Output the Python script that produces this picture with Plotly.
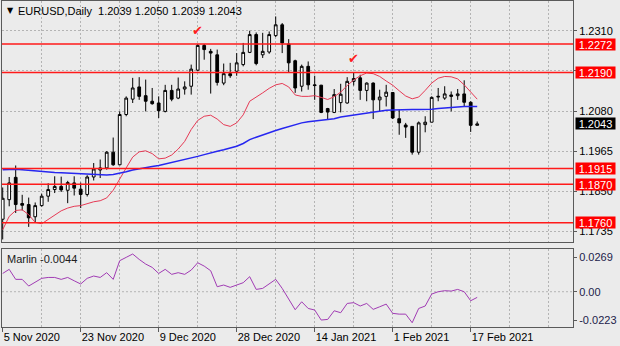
import pandas as pd
import plotly.graph_objects as go

# Trading days shown on the chart (no bars on 25 Dec and 1 Jan)
dates = [d for d in pd.bdate_range("2020-11-05", "2021-02-18")
         if d.strftime("%m-%d") not in ("12-25", "01-01")]

open_ = [1.1770, 1.1826, 1.1890, 1.1815, 1.1812, 1.1777, 1.1809, 1.1836, 1.1855, 1.1864,
         1.1853, 1.1874, 1.1856, 1.1841, 1.1891, 1.1911, 1.1917, 1.1962, 1.1926, 1.2070,
         1.2114, 1.2149, 1.2124, 1.2108, 1.2103, 1.2079, 1.2139, 1.2117, 1.2143, 1.2151,
         1.2197, 1.2268, 1.2251, 1.2241, 1.2160, 1.2187, 1.2194, 1.2213, 1.2248, 1.2299,
         1.2241, 1.2249, 1.2296, 1.2327, 1.2272, 1.2224, 1.2151, 1.2208, 1.2155, 1.2154,
         1.2087, 1.2076, 1.2104, 1.2103, 1.2165, 1.2175, 1.2139, 1.2160, 1.2112, 1.2122,
         1.2133, 1.2058, 1.2040, 1.2036, 1.1962, 1.2041, 1.2048, 1.2120, 1.2117, 1.2126,
         1.2124, 1.2129, 1.2105, 1.2039]
high = [1.1861, 1.1891, 1.1924, 1.1840, 1.1832, 1.1818, 1.1843, 1.1873, 1.1893, 1.1892,
        1.1880, 1.1893, 1.1875, 1.1896, 1.1931, 1.1941, 1.1965, 1.2004, 1.2079, 1.2122,
        1.2175, 1.2177, 1.2170, 1.2146, 1.2122, 1.2155, 1.2155, 1.2176, 1.2165, 1.2213,
        1.2272, 1.2272, 1.2258, 1.2256, 1.2216, 1.2218, 1.2246, 1.2275, 1.2310, 1.2305,
        1.2304, 1.2308, 1.2351, 1.2332, 1.2286, 1.2227, 1.2213, 1.2222, 1.2181, 1.2155,
        1.2089, 1.2143, 1.2158, 1.2177, 1.2191, 1.2184, 1.2162, 1.2162, 1.2141, 1.2155,
        1.2134, 1.2084, 1.2046, 1.2036, 1.2050, 1.2065, 1.2122, 1.2146, 1.2151, 1.2136,
        1.2143, 1.2168, 1.2108, 1.2050]
low = [1.1712, 1.1807, 1.1788, 1.1795, 1.1748, 1.1762, 1.1806, 1.1820, 1.1845, 1.1848,
       1.1816, 1.1838, 1.1802, 1.1835, 1.1881, 1.1888, 1.1912, 1.1923, 1.1925, 1.2065,
       1.2103, 1.2112, 1.2079, 1.2098, 1.2060, 1.2076, 1.2108, 1.2114, 1.2127, 1.2127,
       1.2194, 1.2227, 1.2130, 1.2153, 1.2154, 1.2175, 1.2181, 1.2208, 1.2246, 1.2211,
       1.2232, 1.2244, 1.2292, 1.2246, 1.2191, 1.2132, 1.2136, 1.2141, 1.2112, 1.2074,
       1.2055, 1.2074, 1.2076, 1.2101, 1.2153, 1.2112, 1.2108, 1.2057, 1.2079, 1.2093,
       1.2057, 1.2012, 1.2003, 1.1955, 1.1955, 1.2019, 1.2048, 1.2108, 1.2112, 1.2079,
       1.2112, 1.2093, 1.2020, 1.2039]
close = [1.1830, 1.1874, 1.1812, 1.1810, 1.1774, 1.1809, 1.1836, 1.1855, 1.1864, 1.1854,
         1.1875, 1.1859, 1.1841, 1.1891, 1.1914, 1.1917, 1.1962, 1.1926, 1.2070, 1.2117,
         1.2146, 1.2122, 1.2108, 1.2101, 1.2081, 1.2139, 1.2114, 1.2143, 1.2149, 1.2200,
         1.2268, 1.2256, 1.2246, 1.2162, 1.2187, 1.2181, 1.2218, 1.2248, 1.2299, 1.2216,
         1.2251, 1.2299, 1.2327, 1.2275, 1.2218, 1.2146, 1.2208, 1.2155, 1.2153, 1.2076,
         1.2077, 1.2127, 1.2128, 1.2165, 1.2173, 1.2139, 1.2160, 1.2112, 1.2120, 1.2134,
         1.2060, 1.2046, 1.2034, 1.1962, 1.2046, 1.2048, 1.2119, 1.2122, 1.2129, 1.2122,
         1.2129, 1.2105, 1.2039, 1.2043]

# Short moving average (red) and long moving average (blue)
ma_fast = [1.1740, 1.1778, 1.1795, 1.1797, 1.1783, 1.1761, 1.1757, 1.1769, 1.1783, 1.1794,
           1.1802, 1.1807, 1.1809, 1.1815, 1.1820, 1.1823, 1.1831, 1.1853, 1.1883, 1.1917,
           1.1948, 1.1963, 1.1966, 1.1958, 1.1943, 1.1945, 1.1954, 1.1971, 1.1993, 1.2027,
           1.2053, 1.2065, 1.2068, 1.2057, 1.2041, 1.2036, 1.2046, 1.2069, 1.2108, 1.2119,
           1.2132, 1.2145, 1.2155, 1.2159, 1.2149, 1.2126, 1.2122, 1.2122, 1.2124, 1.2119,
           1.2113, 1.2121, 1.2134, 1.2153, 1.2169, 1.2181, 1.2189, 1.2187, 1.2179, 1.2166,
           1.2154, 1.2138, 1.2123, 1.2115, 1.2120, 1.2139, 1.2160, 1.2174, 1.2179, 1.2178,
           1.2172, 1.2155, 1.2134, 1.2114]
ma_slow = [1.1912, 1.1913, 1.1913, 1.1912, 1.1910, 1.1908, 1.1907, 1.1906, 1.1904, 1.1903,
           1.1902, 1.1901, 1.1900, 1.1899, 1.1898, 1.1897, 1.1897, 1.1898, 1.1901, 1.1906,
           1.1911, 1.1915, 1.1918, 1.1921, 1.1924, 1.1928, 1.1932, 1.1936, 1.1941, 1.1945,
           1.1950, 1.1955, 1.1961, 1.1965, 1.1969, 1.1973, 1.1979, 1.1987, 1.1998, 1.2005,
           1.2012, 1.2018, 1.2024, 1.2030, 1.2036, 1.2041, 1.2046, 1.2049, 1.2051, 1.2053,
           1.2054, 1.2058, 1.2063, 1.2066, 1.2069, 1.2071, 1.2074, 1.2077, 1.2080, 1.2082,
           1.2083, 1.2084, 1.2084, 1.2084, 1.2084, 1.2084, 1.2085, 1.2087, 1.2089, 1.2091,
           1.2092, 1.2093, 1.2093, 1.2093]

# Marlin oscillator
marlin = [0.0142, 0.0174, 0.0096, 0.0096, 0.0044, 0.0073, 0.0104, 0.0111, 0.0111, 0.0096,
          0.0111, 0.0085, 0.0060, 0.0104, 0.0122, 0.0111, 0.0148, 0.0096, 0.0241, 0.0267,
          0.0293, 0.0251, 0.0215, 0.0189, 0.0142, 0.0174, 0.0135, 0.0148, 0.0135, 0.0168,
          0.0225, 0.0199, 0.0163, 0.0039, 0.0052, 0.0034, 0.0052, 0.0070, 0.0117, 0.0018,
          0.0026, 0.0060, 0.0096, 0.0026, -0.0060, -0.0140, -0.0078, -0.0130, -0.0142, -0.0220,
          -0.0215, -0.0148, -0.0163, -0.0091, -0.0085, -0.0111, -0.0091, -0.0137, -0.0117, -0.0096,
          -0.0168, -0.0174, -0.0174, -0.0241, -0.0130, -0.0111, -0.0018, 0.0000, 0.0008, 0.0005,
          0.0018, 0.0000, -0.0070, -0.0044]

levels = [1.2272, 1.2190, 1.1915, 1.1870, 1.1760]
price_ticks = [1.2310, 1.2195, 1.2080, 1.1965, 1.1850, 1.1735]
price_ticktext = ["1.2310", "", "1.2080", "1.1965", "1.1850", "1.1735"]
marlin_ticks = [0.0269, 0.0, -0.0223]
marlin_ticktext = ["0.0269", "0.00", "-0.0223"]
date_labels = ["5 Nov 2020", "23 Nov 2020", "9 Dec 2020", "28 Dec 2020",
               "14 Jan 2021", "1 Feb 2021", "17 Feb 2021"]
check_dates = ["2020-12-17", "2021-01-22"]

FONT = "Liberation Sans, Arial, sans-serif"
BG = "#ebebeb"
GRID = "#b4b4b4"
FRAME = "#5a5a5a"
W, H = 620, 346
ML, MR, MT, MB = 2, 47, 1, 19
BAR_PX = 6.5

n = len(dates)
xs = list(range(n))
day_key = [f"{d.day} {d.strftime('%b %Y')}" for d in dates]
label_pos = [day_key.index(lbl) for lbl in date_labels]
date_key = [d.strftime("%Y-%m-%d") for d in dates]

plot_w = W - ML - MR
x0 = -0.7 / BAR_PX
x1 = x0 + plot_w / BAR_PX

fig = go.Figure()

fig.add_trace(go.Candlestick(
    x=xs, open=open_, high=high, low=low, close=close,
    increasing=dict(line=dict(color="black", width=1), fillcolor="white"),
    decreasing=dict(line=dict(color="black", width=1), fillcolor="black"),
    whiskerwidth=0, xaxis="x", yaxis="y", hoverinfo="skip", showlegend=False))

fig.add_trace(go.Scatter(x=xs, y=ma_fast, mode="lines", line=dict(color="#e63a55", width=1),
                         xaxis="x", yaxis="y", hoverinfo="skip", showlegend=False))
fig.add_trace(go.Scatter(x=xs, y=ma_slow, mode="lines", line=dict(color="#2626f0", width=1.5),
                         xaxis="x", yaxis="y", hoverinfo="skip", showlegend=False))

fig.add_trace(go.Scatter(x=xs, y=marlin, mode="lines", line=dict(color="#a13cb4", width=1),
                         xaxis="x2", yaxis="y2", hoverinfo="skip", showlegend=False))

shapes = []
for lv in levels:
    shapes.append(dict(type="line", xref="x domain", yref="y", x0=0, x1=1, y0=lv, y1=lv,
                       line=dict(color="#ff1a1a", width=1.5), layer="above"))
shapes.append(dict(type="line", xref="x2 domain", yref="y2", x0=0, x1=1, y0=0, y1=0,
                   line=dict(color=GRID, width=1, dash="2px,2px"), layer="below"))

ann = []
# Title line with the last bar's OHLC
ann.append(dict(xref="paper", yref="paper", x=0, y=1, xanchor="left", yanchor="top",
                xshift=3, yshift=-3, text="▼", showarrow=False,
                font=dict(family="DejaVu Sans", size=8, color="black")))
title = "EURUSD,Daily  {:.4f} {:.4f} {:.4f} {:.4f}".format(open_[-1], high[-1], low[-1], close[-1])
ann.append(dict(xref="paper", yref="paper", x=0, y=1, xanchor="left", yanchor="top",
                xshift=14, yshift=-2, text=title, showarrow=False,
                font=dict(family=FONT, size=11, color="black")))
ann.append(dict(xref="paper", yref="y2 domain", x=0, y=1, xanchor="left", yanchor="top",
                xshift=3, yshift=-2, text="Marlin {:.4f}".format(marlin[-1]), showarrow=False,
                font=dict(family=FONT, size=11, color="#202020")))

# Price labels for the horizontal levels and the last close
for lv in levels:
    ann.append(dict(xref="paper", yref="y", x=1, y=lv, xanchor="left", yanchor="middle",
                    xshift=2, text="{:.4f}".format(lv), showarrow=False, bgcolor="#ff0000",
                    width=39, height=11, borderpad=0,
                    font=dict(family=FONT, size=11, color="white")))
ann.append(dict(xref="paper", yref="y", x=1, y=close[-1], xanchor="left", yanchor="middle",
                xshift=2, text="{:.4f}".format(close[-1]), showarrow=False, bgcolor="black",
                width=39, height=11, borderpad=0,
                font=dict(family=FONT, size=11, color="white")))

# Check marks above the two highs
for cd in check_dates:
    i = date_key.index(cd)
    ann.append(dict(xref="x", yref="y", x=xs[i], y=high[i], xanchor="center", yanchor="bottom",
                    yshift=4, text="✔", showarrow=False,
                    font=dict(family="DejaVu Sans", size=13, color="#ff2020")))

grid_x = dict(showgrid=True, gridcolor=GRID, griddash="2px,2px", gridwidth=1,
              minor=dict(tick0=0, dtick=6, showgrid=True, gridcolor=GRID,
                         griddash="2px,2px", gridwidth=1))

fig.update_layout(
    width=W, height=H, margin=dict(l=ML, r=MR, t=MT, b=MB),
    paper_bgcolor=BG, plot_bgcolor=BG, showlegend=False,
    boxgap=0.4,
    font=dict(family=FONT, size=11, color="black"),
    xaxis=dict(domain=[0, 1], anchor="y", range=[x0, x1], tickvals=label_pos,
               showticklabels=False, ticks="", showline=True, mirror=True,
               linecolor=FRAME, linewidth=1, zeroline=False,
               rangeslider=dict(visible=False), **grid_x),
    xaxis2=dict(domain=[0, 1], anchor="y2", matches="x", range=[x0, x1],
                tickvals=label_pos, ticktext=date_labels, ticks="outside", ticklen=4,
                tickcolor=FRAME, ticklabelposition="outside right",
                tickfont=dict(family=FONT, size=11, color="black"),
                showline=True, mirror=True, linecolor=FRAME, linewidth=1, zeroline=False,
                **grid_x),
    yaxis=dict(domain=[0.2607, 1], anchor="x", side="right",
               range=[1.17047, 1.23952], tickvals=price_ticks, ticktext=price_ticktext,
               ticks="outside", ticklen=3, tickcolor=FRAME,
               tickfont=dict(family=FONT, size=11, color="black"),
               showgrid=True, gridcolor=GRID, griddash="2px,2px",
               showline=True, mirror=True, linecolor=FRAME, linewidth=1, zeroline=False),
    yaxis2=dict(domain=[0, 0.2393], anchor="x2", side="right",
                range=[-0.0274, 0.0332], tickvals=marlin_ticks, ticktext=marlin_ticktext,
                ticks="outside", ticklen=3, tickcolor=FRAME,
                tickfont=dict(family=FONT, size=11, color="#22224a"),
                showgrid=False, showline=True, mirror=True, linecolor=FRAME,
                linewidth=1, zeroline=False),
    shapes=shapes, annotations=ann,
)

fig.write_html("out.html")
